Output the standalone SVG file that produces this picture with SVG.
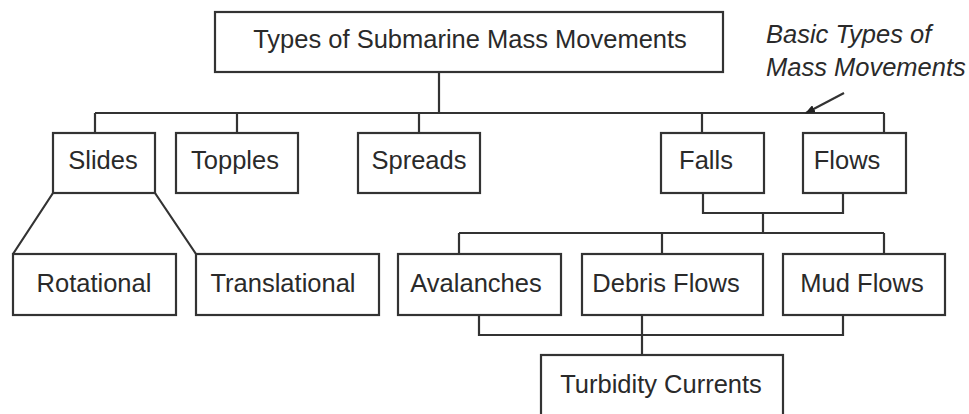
<svg xmlns="http://www.w3.org/2000/svg" width="969" height="414" viewBox="0 0 969 414">
<style>
.box{fill:#fff;stroke:#333;stroke-width:2.2}
.ln{fill:none;stroke:#333;stroke-width:2.2}
text{font-family:"Liberation Sans",Arial,sans-serif;font-size:25.5px;fill:#2a2a2a;text-anchor:middle}
.note{font-style:italic;text-anchor:start}
</style>
<defs>
<marker id="ah" markerWidth="10" markerHeight="8" refX="9" refY="4" orient="auto" markerUnits="userSpaceOnUse">
<path d="M0,0 L10,4 L0,8 Z" fill="#222"/>
</marker>
</defs>
<rect width="969" height="414" fill="#fff"/>
<g id="connectors">
<path class="ln" d="M439,72 V113 M95,113 H884 M95,113 V133 M237,113 V133 M419,113 V133 M702,113 V133 M884,113 V133"/>
<path class="ln" d="M53,193 L13,254 M155,193 L196,254"/>
<path class="ln" d="M703,193 V213 H843 V193 M763,213 V233 M459,233 H884 M459,233 V254 M662,233 V254 M884,233 V254"/>
<path class="ln" d="M479,315 V335 H843 V315 M642,315 V355"/>
<line class="ln" x1="844" y1="93" x2="806" y2="113" marker-end="url(#ah)"/>
</g>
<g id="title"><rect class="box" x="215" y="12" width="508" height="60"/><text x="470" y="48">Types of Submarine Mass Movements</text></g>
<g id="note"><text class="note" x="766" y="43">Basic Types of</text><text class="note" x="766" y="76">Mass Movements</text></g>
<g id="slides"><rect class="box" x="53" y="133" width="102" height="60"/><text x="103" y="169">Slides</text></g>
<g id="topples"><rect class="box" x="176" y="133" width="122" height="60"/><text x="235" y="169">Topples</text></g>
<g id="spreads"><rect class="box" x="358" y="133" width="122" height="60"/><text x="419" y="169">Spreads</text></g>
<g id="falls"><rect class="box" x="661" y="133" width="103" height="60"/><text x="706" y="169">Falls</text></g>
<g id="flows"><rect class="box" x="803" y="133" width="103" height="60"/><text x="847" y="169">Flows</text></g>
<g id="rotational"><rect class="box" x="13" y="254" width="163" height="61"/><text x="94" y="292">Rotational</text></g>
<g id="translational"><rect class="box" x="196" y="254" width="183" height="61"/><text x="283" y="292">Translational</text></g>
<g id="avalanches"><rect class="box" x="398" y="254" width="163" height="61"/><text x="476" y="292">Avalanches</text></g>
<g id="debris"><rect class="box" x="582" y="254" width="181" height="61"/><text x="666" y="292">Debris Flows</text></g>
<g id="mud"><rect class="box" x="783" y="254" width="162" height="61"/><text x="862" y="292">Mud Flows</text></g>
<g id="turbidity"><rect class="box" x="541" y="355" width="242" height="80"/><text x="661" y="393">Turbidity Currents</text></g>
</svg>
